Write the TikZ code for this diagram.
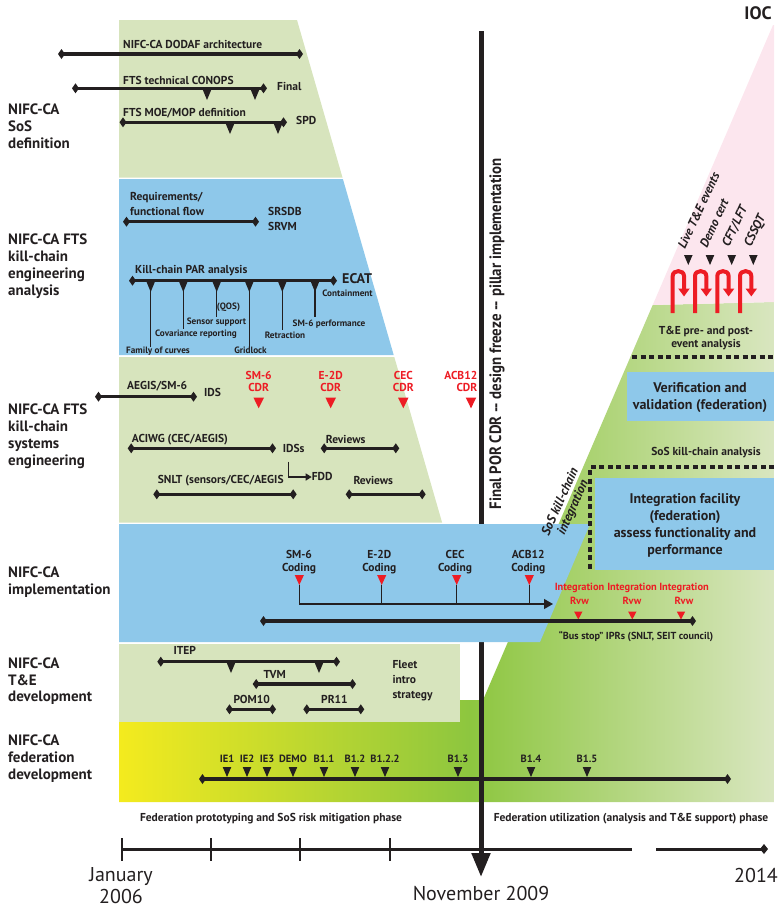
\documentclass[tikz,border=0pt]{standalone}
\usepackage{fontspec}
\setmainfont{PT Sans}
\newfontfamily\narrowfont[FakeStretch=0.9]{PT Sans}
\usetikzlibrary{arrows.meta}
\definecolor{lgreen}{HTML}{D7E4BD}
\definecolor{lblue}{HTML}{8EC8EA}
\definecolor{pinkbg}{HTML}{FCE6EE}
\definecolor{myred}{HTML}{ED1C24}
\definecolor{gyel}{HTML}{F4EB1E}
\definecolor{ggreen}{HTML}{8DC63F}
\definecolor{glight}{HTML}{D9E6C0}
\definecolor{ink}{HTML}{231F20}
\pgfdeclarehorizontalshading{fedshade}{100bp}{color(0bp)=(gyel); color(25bp)=(gyel); color(51.8bp)=(ggreen); color(75bp)=(glight); color(100bp)=(glight)}
\newcommand\dtri[5][ink]{\fill[#1] (#2-#4,#3) -- (#2+#4,#3) -- (#2,#3+#5) -- cycle;}
\tikzset{
  tl/.style={draw=ink, line width=3.5pt, {Diamond[length=7pt,width=10pt]}-{Diamond[length=7pt,width=10pt]}},
  tlr/.style={draw=ink, line width=3pt, -{Diamond[length=8pt,width=10pt]}},
  thinl/.style={draw=ink, line width=1.3pt},
  lb/.style={font=\fontsize{11.5}{13}\selectfont\bfseries, text=ink, inner sep=0pt, text height=1.5ex, text depth=.25ex},
  sm/.style={font=\fontsize{9.2}{11}\selectfont\bfseries, text=ink, inner sep=0pt, text height=1.5ex, text depth=.25ex},
  ml/.style={font=\fontsize{11.5}{13}\selectfont\bfseries, text=ink, inner sep=0pt, align=left},
  title/.style={font=\fontsize{15}{16.7}\selectfont\bfseries, text=ink, inner sep=0pt, align=left, anchor=north west},
  rl/.style={font=\fontsize{11.5}{12}\selectfont\bfseries, text=myred, inner sep=0pt, align=center, anchor=north},
  cl/.style={font=\fontsize{11.5}{12.5}\selectfont\bfseries, text=ink, inner sep=0pt, align=center, anchor=north},
  box/.style={font=\fontsize{14}{17}\selectfont\bfseries, text=ink, inner sep=0pt, align=center},
  dsh/.style={draw=ink, line width=3.5pt, dash pattern=on 5pt off 3.5pt},
  rot/.style={font=\fontsize{12.5}{13}\selectfont\bfseries\itshape, text=ink, inner sep=0pt},
  ax/.style={font=\fontsize{20}{22}\selectfont\mdseries, text=ink, inner sep=0pt, align=center},
  rarr/.style={draw=myred, line width=4pt, -{Triangle[length=8pt,width=11pt]}},
}
\begin{document}
\begin{tikzpicture}[x=1pt,y=-1pt]
\useasboundingbox (0,0) rectangle (778,908);
% ---------- backgrounds ----------
\shade[shading=fedshade] (652.7,305) -- (774,302) -- (774,802) -- (119,802) -- (119,700) -- (483,700) -- cycle;
\fill[pinkbg] (773,25) -- (774,25) -- (774,302) -- (652.7,305) -- cycle;
\fill[lgreen] (119,20) -- (297,20) -- (342.5,177.5) -- (119,177.5) -- cycle;
\fill[lblue] (119,179) -- (342.9,179) -- (393.7,355) -- (119,355) -- cycle;
\fill[lgreen] (119,357) -- (394.3,357) -- (442.1,522.5) -- (119,522.5) -- cycle;
\fill[lgreen] (119,644) rectangle (460,722);
% main vertical line
\coordinate (vtop) at (481,31);
\coordinate (vbot) at (481,877);
\draw[draw=ink, line width=5pt, -{Triangle[length=24pt,width=18pt]}] (vtop) -- (vbot);
% implementation band
\fill[lblue] (119,524) -- (590,524) -- (540,642) -- (119,642) -- cycle;
% right panel
\draw[dsh] (632,357) -- (774,357);
\fill[lblue] (627,372) rectangle (774,421);
\draw[dsh] (774,467) -- (590,467) -- (590,570);
\fill[lblue] (595,478) rectangle (774,570);
\node[font=\fontsize{18}{20}\selectfont\bfseries, text=ink, inner sep=0pt] (ioc) at (758,13.5) {IOC};
\node[box] (vv) at (700,397.5) {Verification and\\validation (federation)};
\node[box] (intf) at (685,525) {Integration facility\\(federation)\\assess functionality and\\performance};
\node[ml, align=center] (tepre) at (706,338) {T\&E pre- and post-\\event analysis};
\node[lb] (skca) at (706,452) {SoS kill-chain analysis};
\node[rot, align=center, rotate=66, font=\fontsize{13}{14}\selectfont\bfseries\itshape] (skci) at (567,505) {SoS kill-chain\\integration};
% red loops
\foreach \a in {672.7,695,717.3,740}{
  \draw[rarr] (\a,313) -- (\a,276) .. controls (\a,269.5) and (\a+11.3,269.5) .. (\a+11.3,276) -- (\a+11.3,296.5);
}
\dtri{688.3}{255}{4.3}{10}
\dtri{710}{255}{4.3}{10}
\dtri{731.7}{255}{4.3}{10}
\dtri{753.3}{255}{4.3}{10}
\node[rot, anchor=base west, rotate=65] (live) at (685,250) {Live T\&E events};
\node[rot, anchor=base west, rotate=65] (demo) at (707,248.5) {Demo cert};
\node[rot, anchor=base west, rotate=65] (cft) at (729,248) {CFT/LFT};
\node[rot, anchor=base west, rotate=65] (cssqt) at (751,248) {CSSQT};
% vertical text
\node[font=\fontsize{16.5}{18}\selectfont\narrowfont\bfseries, text=ink, inner sep=0pt, text height=1.5ex, text depth=.25ex, rotate=90] (final) at (498,334) {Final POR CDR -- design freeze -- pillar implementation};
% ---------- S1 SoS definition ----------
\node[title] (t1) at (8,104) {NIFC-CA\\SoS\\definition};
\node[lb, anchor=west] (dodaf) at (123,45.5) {NIFC-CA DODAF architecture};
\draw[tl] (58,54) -- (303,54);
\node[lb, anchor=west] (conops) at (123,81) {FTS technical CONOPS};
\draw[tl] (72,88.3) -- (267,88.3);
\dtri{207}{88}{5}{12}
\dtri{255}{88}{5}{12}
\node[lb, anchor=west] (final1) at (277,87.5) {Final};
\node[lb, anchor=west] (moe) at (123,113) {FTS MOE/MOP definition};
\draw[tl] (119.5,122.3) -- (287,122.3);
\dtri{230}{122}{5}{12}
\dtri{278}{122}{5}{12}
\node[lb, anchor=west] (spd) at (296,121.5) {SPD};
% ---------- S2 engineering analysis ----------
\node[title] (t2) at (8,234) {NIFC-CA FTS\\kill-chain\\engineering\\analysis};
\node[ml, anchor=north west, font=\fontsize{11.5}{14.8}\selectfont\bfseries] (req) at (130,192.5) {Requirements/\\functional flow};
\draw[tl] (123,221.7) -- (259,221.7);
\node[ml, anchor=north west, font=\fontsize{11.5}{14.5}\selectfont\bfseries] (srsdb) at (268,207.5) {SRSDB\\SRVM};
\node[lb, anchor=west] (par) at (135,270.5) {Kill-chain PAR analysis};
\draw[tl] (129,280.7) -- (337,280.7);
\node[font=\fontsize{14}{15}\selectfont\bfseries, text=ink, inner sep=0pt, text height=1.5ex, text depth=.25ex, anchor=west] (ecat) at (342,280.5) {ECAT};
\node[sm] (cont) at (347.5,293.5) {Containment};
\foreach \x/\e in {150.7/347, 183.3/329, 216.7/317, 249.3/348, 282.3/330, 315/317}{
  \draw[thinl] (\x,281) -- (\x,\e);
  \dtri{\x}{281}{4.5}{11}
}
\node[sm] (foc) at (158,350) {Family of curves};
\node[sm] (cov) at (196,333) {Covariance reporting};
\node[sm] (qos) at (228.5,306.7) {(QOS)};
\node[sm] (sens) at (216.5,321.7) {Sensor support};
\node[sm] (grid) at (250.5,350) {Gridlock};
\node[sm] (retr) at (285,335.5) {Retraction};
\node[sm] (sm6p) at (329,323) {SM-6 performance};
% ---------- S3 systems engineering ----------
\node[title] (t3) at (8,404) {NIFC-CA FTS\\kill-chain\\systems\\engineering};
\node[lb, anchor=west] (aegis) at (127,386.7) {AEGIS/SM-6};
\draw[tl] (95,396.7) -- (197,396.7);
\node[lb, anchor=west] (ids) at (204,393.5) {IDS};
\node[rl] (c1) at (258.7,371.5) {SM-6\\CDR};
\node[rl] (c2) at (330.7,371.5) {E-2D\\CDR};
\node[rl] (c3) at (403.3,371.5) {CEC\\CDR};
\node[rl, align=right, anchor=north east] (c4) at (477.5,371.5) {ACB12\\CDR};
\dtri[myred]{258.7}{397.5}{5.3}{10.8}
\dtri[myred]{330.7}{397.5}{5.3}{10.8}
\dtri[myred]{403.3}{397.5}{5.3}{10.8}
\dtri[myred]{471}{397.5}{5.3}{10.8}
\node[lb, anchor=west] (aciwg) at (131.7,439.7) {ACIWG (CEC/AEGIS)};
\draw[tl] (127.7,448.3) -- (276,448.3);
\node[lb, anchor=west] (idss) at (282.7,449) {IDSs};
\node[lb, anchor=west] (rev1) at (325.7,440) {Reviews};
\draw[tl] (320.7,448.3) -- (399.3,448.3);
\node[lb, anchor=west] (fdd) at (311.7,477) {FDD};
\draw[thinl, -{Triangle[length=6pt,width=7pt]}] (288.3,461.5) -- (288.3,477) -- (fdd.west);
\node[lb, anchor=west] (snlt) at (157.7,480) {SNLT (sensors/CEC/AEGIS};
\draw[tl] (153.3,494.3) -- (296.7,494.3);
\node[lb, anchor=west] (rev2) at (353.3,481) {Reviews};
\draw[tl] (345.7,494.3) -- (425.7,494.3);
% ---------- S4 implementation ----------
\node[title] (t4) at (8,567) {NIFC-CA\\implementation};
\node[cl] (k1) at (299,550.5) {SM-6\\Coding};
\node[cl] (k2) at (379.3,550.5) {E-2D\\Coding};
\node[cl] (k3) at (455,550.5) {CEC\\Coding};
\node[cl] (k4) at (528.3,550.5) {ACB12\\Coding};
\coordinate (cend) at (553,604);
\draw[draw=ink, line width=1.2pt, -{Triangle[length=9pt,width=10pt]}] (299.3,585) -- (299.3,604) -- (cend);
\foreach \x in {381.7,456.7,529.3}{\draw[draw=ink, line width=1.2pt] (\x,585) -- (\x,604);}
\dtri[myred]{299.3}{575}{4.6}{10}
\dtri[myred]{381.7}{575}{4.6}{10}
\dtri[myred]{456.7}{575}{4.6}{10}
\dtri[myred]{529.3}{575}{4.6}{10}
\node[rl, font=\fontsize{10.4}{14}\selectfont\bfseries] (i1) at (579.5,582.5) {Integration\\Rvw};
\node[rl, font=\fontsize{10.4}{14}\selectfont\bfseries] (i2) at (632,582.5) {Integration\\Rvw};
\node[rl, font=\fontsize{10.4}{14}\selectfont\bfseries] (i3) at (684,582.5) {Integration\\Rvw};
\dtri[myred]{578.3}{611.5}{4.2}{8}
\dtri[myred]{632.3}{611.5}{4.2}{8}
\dtri[myred]{681}{611.5}{4.2}{8}
\draw[tl] (260,621) -- (696,621);
\node[lb, font=\fontsize{10.2}{12}\selectfont\bfseries] (bus) at (636,636.7) {``Bus stop'' IPRs (SNLT, SEIT council)};
% ---------- S5 T&E development ----------
\node[title] (t5) at (8,657.5) {NIFC-CA\\T\&E\\development};
\node[lb, anchor=west] (itep) at (173.3,651) {ITEP};
\draw[tl] (157.3,661.7) -- (340,661.7);
\dtri{231}{662}{4.6}{11}
\dtri{319}{662}{4.6}{11}
\node[lb, anchor=west] (tvm) at (263.3,675.3) {TVM};
\draw[tl] (252.7,684) -- (356,684);
\node[lb, anchor=west] (pom) at (233.3,700) {POM10};
\draw[tl] (226,709.3) -- (276,709.3);
\node[lb, anchor=west] (pr11) at (321,700) {PR11};
\draw[tl] (303.3,709.3) -- (364.3,709.3);
\node[ml, anchor=north west, font=\fontsize{11.5}{15}\selectfont\bfseries] (fleet) at (392.3,660.5) {Fleet\\intro\\strategy};
% ---------- S6 federation development ----------
\node[title] (t6) at (8,735) {NIFC-CA\\federation\\development};
\draw[tl] (199,779) -- (731,779);
\foreach \x/\t in {227/IE1, 247/IE2, 267/IE3, 293/DEMO, 324/B1.1, 355/B1.2, 385/B1.2.2, 458/B1.3, 531/B1.4, 587/B1.5}{
  \dtri{\x}{767}{4.3}{10}
  \node[sm, font=\fontsize{10.5}{12}\selectfont\bfseries] at (\x,759) {\t};
}
\node[sm, font=\fontsize{11.5}{13}\selectfont\bfseries] (ph1) at (271,818) {Federation prototyping and SoS risk mitigation phase};
\node[sm, font=\fontsize{11.5}{13}\selectfont\bfseries] (ph2) at (631,818) {Federation utilization (analysis and T\&E support) phase};
% ---------- axis ----------
\draw[draw=ink, line width=3pt] (122,849) -- (632,849);
\draw[tlr] (656.4,849) -- (768,849);
\foreach \x in {122,211.4,300.3,389.7}{\draw[draw=ink, line width=2pt] (\x,838) -- (\x,861);}
\node[ax] (jan) at (121,886) {January\\2006};
\node[ax] (nov) at (481,893) {November 2009};
\node[ax] (y14) at (756,875) {2014};
\end{tikzpicture}
\end{document}
